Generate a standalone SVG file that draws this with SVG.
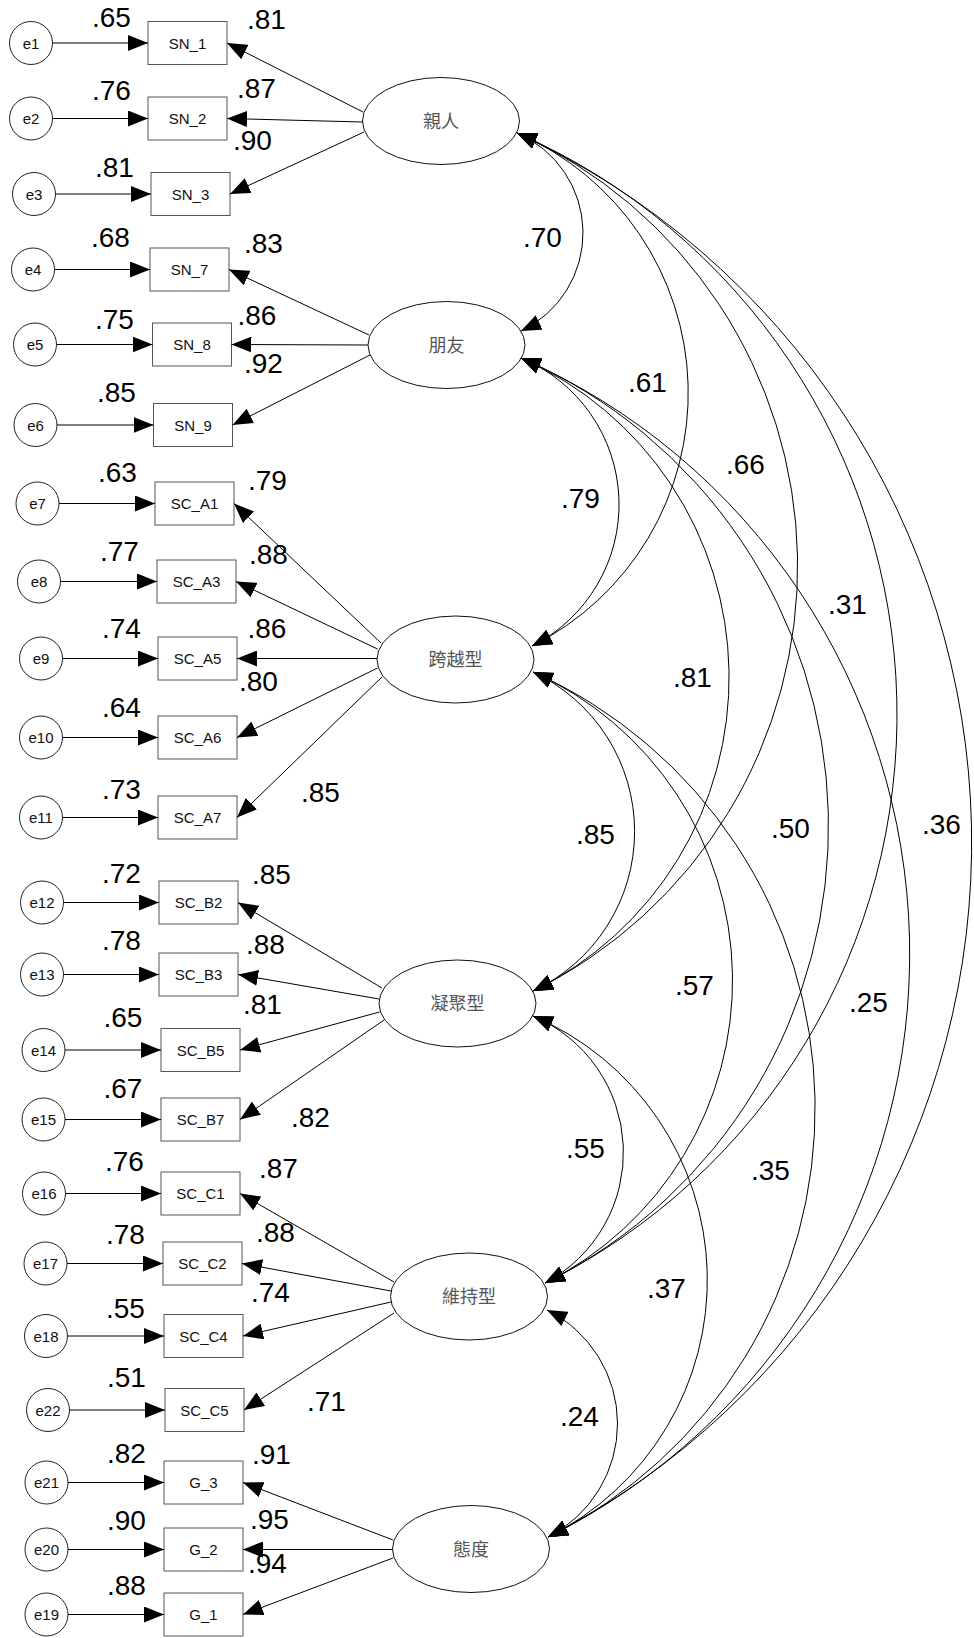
<svg xmlns="http://www.w3.org/2000/svg" width="974" height="1638" viewBox="0 0 974 1638">
<style>
.bg{fill:#fff}
.box{fill:#fff;stroke:#555;stroke-width:1}
.err{fill:#fff;stroke:#222;stroke-width:1}
.lat{fill:#fff;stroke:#111;stroke-width:1}
.t{font-family:"Liberation Sans",Arial,sans-serif;font-size:15px;fill:#111;text-anchor:middle}
.cjk{font-family:"Noto Sans CJK TC","Noto Sans CJK SC",sans-serif;font-size:18px;fill:#555;text-anchor:middle}
.num{font-family:"Liberation Sans",Arial,sans-serif;font-size:28px;fill:#000}
.e{fill:none;stroke:#000;stroke-width:1;marker-end:url(#ah)}
.c{fill:none;stroke:#000;stroke-width:1;marker-start:url(#ah);marker-end:url(#ah)}
</style>
<defs>
<marker id="ah" viewBox="0 0 20 16" refX="20" refY="8" markerWidth="20" markerHeight="16" markerUnits="userSpaceOnUse" orient="auto-start-reverse"><path d="M0,0 L20,8 L0,16 z" fill="#000"/></marker>
</defs>
<rect class="bg" x="0" y="0" width="974" height="1638"/>

<g id="latents">
<g id="qinren"><ellipse class="lat" cx="441" cy="121" rx="78.5" ry="43.5"/><text class="cjk" x="441" y="127.5">親人</text></g>
<g id="pengyou"><ellipse class="lat" cx="446.5" cy="345" rx="78.5" ry="43.5"/><text class="cjk" x="446.5" y="351.5">朋友</text></g>
<g id="kuayue"><ellipse class="lat" cx="455.5" cy="659.5" rx="78.5" ry="43.5"/><text class="cjk" x="455.5" y="666">跨越型</text></g>
<g id="ningju"><ellipse class="lat" cx="457.5" cy="1003.5" rx="78.5" ry="43.5"/><text class="cjk" x="457.5" y="1010">凝聚型</text></g>
<g id="weichi"><ellipse class="lat" cx="469" cy="1296.5" rx="78.5" ry="43.5"/><text class="cjk" x="469" y="1303">維持型</text></g>
<g id="taidu"><ellipse class="lat" cx="471" cy="1549" rx="78.5" ry="43.5"/><text class="cjk" x="471" y="1555.5">態度</text></g>
</g>

<g id="indicators">
<g id="SN_1"><rect class="box" x="148" y="21.5" width="79" height="43"/><text class="t" x="187.5" y="48.5">SN_1</text></g>
<g id="SN_2"><rect class="box" x="148" y="97" width="79" height="43"/><text class="t" x="187.5" y="124">SN_2</text></g>
<g id="SN_3"><rect class="box" x="151" y="172.5" width="79" height="43"/><text class="t" x="190.5" y="199.5">SN_3</text></g>
<g id="SN_7"><rect class="box" x="150" y="248" width="79" height="43"/><text class="t" x="189.5" y="275">SN_7</text></g>
<g id="SN_8"><rect class="box" x="152.5" y="323" width="79" height="43"/><text class="t" x="192" y="350">SN_8</text></g>
<g id="SN_9"><rect class="box" x="153.5" y="403.5" width="79" height="43"/><text class="t" x="193" y="430.5">SN_9</text></g>
<g id="SC_A1"><rect class="box" x="155" y="482" width="79" height="43"/><text class="t" x="194.5" y="509">SC_A1</text></g>
<g id="SC_A3"><rect class="box" x="157" y="560" width="79" height="43"/><text class="t" x="196.5" y="587">SC_A3</text></g>
<g id="SC_A5"><rect class="box" x="158" y="637" width="79" height="43"/><text class="t" x="197.5" y="664">SC_A5</text></g>
<g id="SC_A6"><rect class="box" x="158" y="716" width="79" height="43"/><text class="t" x="197.5" y="743">SC_A6</text></g>
<g id="SC_A7"><rect class="box" x="158" y="796" width="79" height="43"/><text class="t" x="197.5" y="823">SC_A7</text></g>
<g id="SC_B2"><rect class="box" x="159" y="881" width="79" height="43"/><text class="t" x="198.5" y="908">SC_B2</text></g>
<g id="SC_B3"><rect class="box" x="159" y="953" width="79" height="43"/><text class="t" x="198.5" y="980">SC_B3</text></g>
<g id="SC_B5"><rect class="box" x="161" y="1028.5" width="79" height="43"/><text class="t" x="200.5" y="1055.5">SC_B5</text></g>
<g id="SC_B7"><rect class="box" x="161" y="1098" width="79" height="43"/><text class="t" x="200.5" y="1125">SC_B7</text></g>
<g id="SC_C1"><rect class="box" x="161" y="1172" width="79" height="43"/><text class="t" x="200.5" y="1199">SC_C1</text></g>
<g id="SC_C2"><rect class="box" x="163" y="1242" width="79" height="43"/><text class="t" x="202.5" y="1269">SC_C2</text></g>
<g id="SC_C4"><rect class="box" x="164" y="1314.5" width="79" height="43"/><text class="t" x="203.5" y="1341.5">SC_C4</text></g>
<g id="SC_C5"><rect class="box" x="165" y="1388.5" width="79" height="43"/><text class="t" x="204.5" y="1415.5">SC_C5</text></g>
<g id="G_3"><rect class="box" x="164" y="1461" width="79" height="43"/><text class="t" x="203.5" y="1488">G_3</text></g>
<g id="G_2"><rect class="box" x="164" y="1528" width="79" height="43"/><text class="t" x="203.5" y="1555">G_2</text></g>
<g id="G_1"><rect class="box" x="164" y="1593" width="79" height="43"/><text class="t" x="203.5" y="1620">G_1</text></g>
</g>

<g id="errors">
<g id="e1"><circle class="err" cx="31" cy="43" r="21.5"/><text class="t" x="31" y="48.5">e1</text></g>
<g id="e2"><circle class="err" cx="31" cy="118.5" r="21.5"/><text class="t" x="31" y="124">e2</text></g>
<g id="e3"><circle class="err" cx="34" cy="194" r="21.5"/><text class="t" x="34" y="199.5">e3</text></g>
<g id="e4"><circle class="err" cx="33" cy="269.5" r="21.5"/><text class="t" x="33" y="275">e4</text></g>
<g id="e5"><circle class="err" cx="35" cy="344.5" r="21.5"/><text class="t" x="35" y="350">e5</text></g>
<g id="e6"><circle class="err" cx="35.5" cy="425" r="21.5"/><text class="t" x="35.5" y="430.5">e6</text></g>
<g id="e7"><circle class="err" cx="37.5" cy="503.5" r="21.5"/><text class="t" x="37.5" y="509">e7</text></g>
<g id="e8"><circle class="err" cx="39" cy="581.5" r="21.5"/><text class="t" x="39" y="587">e8</text></g>
<g id="e9"><circle class="err" cx="41" cy="658.5" r="21.5"/><text class="t" x="41" y="664">e9</text></g>
<g id="e10"><circle class="err" cx="41" cy="737.5" r="21.5"/><text class="t" x="41" y="743">e10</text></g>
<g id="e11"><circle class="err" cx="41" cy="817.5" r="21.5"/><text class="t" x="41" y="823">e11</text></g>
<g id="e12"><circle class="err" cx="42" cy="902.5" r="21.5"/><text class="t" x="42" y="908">e12</text></g>
<g id="e13"><circle class="err" cx="42" cy="974.5" r="21.5"/><text class="t" x="42" y="980">e13</text></g>
<g id="e14"><circle class="err" cx="43.5" cy="1050" r="21.5"/><text class="t" x="43.5" y="1055.5">e14</text></g>
<g id="e15"><circle class="err" cx="43.5" cy="1119.5" r="21.5"/><text class="t" x="43.5" y="1125">e15</text></g>
<g id="e16"><circle class="err" cx="44" cy="1193.5" r="21.5"/><text class="t" x="44" y="1199">e16</text></g>
<g id="e17"><circle class="err" cx="45.5" cy="1263.5" r="21.5"/><text class="t" x="45.5" y="1269">e17</text></g>
<g id="e18"><circle class="err" cx="46" cy="1336" r="21.5"/><text class="t" x="46" y="1341.5">e18</text></g>
<g id="e22"><circle class="err" cx="48" cy="1410" r="21.5"/><text class="t" x="48" y="1415.5">e22</text></g>
<g id="e21"><circle class="err" cx="46.5" cy="1482.5" r="21.5"/><text class="t" x="46.5" y="1488">e21</text></g>
<g id="e20"><circle class="err" cx="46.5" cy="1549.5" r="21.5"/><text class="t" x="46.5" y="1555">e20</text></g>
<g id="e19"><circle class="err" cx="46.5" cy="1614.5" r="21.5"/><text class="t" x="46.5" y="1620">e19</text></g>
</g>

<g id="connectors">
<!-- error arrows -->
<line class="e" x1="52.5" y1="43" x2="148" y2="43"/>
<line class="e" x1="52.5" y1="118.5" x2="148" y2="118.5"/>
<line class="e" x1="55.5" y1="194" x2="151" y2="194"/>
<line class="e" x1="54.5" y1="269.5" x2="150" y2="269.5"/>
<line class="e" x1="56.5" y1="344.5" x2="152.5" y2="344.5"/>
<line class="e" x1="57" y1="425" x2="153.5" y2="425"/>
<line class="e" x1="59" y1="503.5" x2="155" y2="503.5"/>
<line class="e" x1="60.5" y1="581.5" x2="157" y2="581.5"/>
<line class="e" x1="62.5" y1="658.5" x2="158" y2="658.5"/>
<line class="e" x1="62.5" y1="737.5" x2="158" y2="737.5"/>
<line class="e" x1="62.5" y1="817.5" x2="158" y2="817.5"/>
<line class="e" x1="63.5" y1="902.5" x2="159" y2="902.5"/>
<line class="e" x1="63.5" y1="974.5" x2="159" y2="974.5"/>
<line class="e" x1="65" y1="1050" x2="161" y2="1050"/>
<line class="e" x1="65" y1="1119.5" x2="161" y2="1119.5"/>
<line class="e" x1="65.5" y1="1193.5" x2="161" y2="1193.5"/>
<line class="e" x1="67" y1="1263.5" x2="163" y2="1263.5"/>
<line class="e" x1="67.5" y1="1336" x2="164" y2="1336"/>
<line class="e" x1="69.5" y1="1410" x2="165" y2="1410"/>
<line class="e" x1="68" y1="1482.5" x2="164" y2="1482.5"/>
<line class="e" x1="68" y1="1549.5" x2="164" y2="1549.5"/>
<line class="e" x1="68" y1="1614.5" x2="164" y2="1614.5"/>
<!-- loadings -->
<line class="e" x1="363" y1="112" x2="227" y2="43"/>
<line class="e" x1="362.5" y1="122" x2="227" y2="118.5"/>
<line class="e" x1="364" y1="132" x2="230" y2="194"/>
<line class="e" x1="369" y1="335" x2="229" y2="269.5"/>
<line class="e" x1="368" y1="345" x2="231.5" y2="344.5"/>
<line class="e" x1="370" y1="355" x2="232.5" y2="425"/>
<line class="e" x1="381" y1="643" x2="234" y2="503.5"/>
<line class="e" x1="377.5" y1="649" x2="236" y2="581.5"/>
<line class="e" x1="377" y1="658.5" x2="237" y2="658.5"/>
<line class="e" x1="377.5" y1="668" x2="237" y2="737.5"/>
<line class="e" x1="382" y1="677" x2="237" y2="817.5"/>
<line class="e" x1="382" y1="988" x2="238" y2="902.5"/>
<line class="e" x1="379" y1="999" x2="238" y2="974.5"/>
<line class="e" x1="379.5" y1="1012" x2="240" y2="1050"/>
<line class="e" x1="384" y1="1020" x2="240" y2="1119.5"/>
<line class="e" x1="394" y1="1282" x2="240" y2="1193.5"/>
<line class="e" x1="391" y1="1291" x2="242" y2="1263.5"/>
<line class="e" x1="391" y1="1302" x2="243" y2="1336"/>
<line class="e" x1="394" y1="1313" x2="244" y2="1410"/>
<line class="e" x1="393" y1="1540" x2="243" y2="1482.5"/>
<line class="e" x1="392.5" y1="1549.5" x2="243" y2="1549.5"/>
<line class="e" x1="393" y1="1558" x2="243" y2="1614.5"/>
<!-- covariances -->
<path class="c" d="M517,133 A108.6,108.6 0 0 1 521,331"/>
<path class="c" d="M517,133 A283,283 0 0 1 532,646"/>
<path class="c" d="M517,133 A474,474 0 0 1 533,991"/>
<path class="c" d="M517,133 A635,635 0 0 1 545,1283"/>
<path class="c" d="M517,133 A781,781 0 0 1 548,1537"/>
<path class="c" d="M521,358 A158.5,158.5 0 0 1 532,646"/>
<path class="c" d="M521,358 A349,349 0 0 1 533,991"/>
<path class="c" d="M521,358 A510,510 0 0 1 545,1283"/>
<path class="c" d="M521,358 A651,651 0 0 1 548,1537"/>
<path class="c" d="M533,672 A176,176 0 0 1 533,991"/>
<path class="c" d="M533,672 A338,338 0 0 1 545,1283"/>
<path class="c" d="M533,672 A478,478 0 0 1 548,1537"/>
<path class="c" d="M533,1016 A148,148 0 0 1 545,1283"/>
<path class="c" d="M533,1016 A287,287 0 0 1 548,1537"/>
<path class="c" d="M547,1310 A127,127 0 0 1 548,1537"/>
</g>

<g id="labels">
<text class="num" x="92" y="27">.65</text>
<text class="num" x="92" y="100">.76</text>
<text class="num" x="95" y="177">.81</text>
<text class="num" x="91" y="247">.68</text>
<text class="num" x="95" y="329">.75</text>
<text class="num" x="97" y="402">.85</text>
<text class="num" x="98" y="482">.63</text>
<text class="num" x="100" y="561">.77</text>
<text class="num" x="102" y="638">.74</text>
<text class="num" x="102" y="717">.64</text>
<text class="num" x="102" y="799">.73</text>
<text class="num" x="102" y="883">.72</text>
<text class="num" x="102" y="950">.78</text>
<text class="num" x="103.5" y="1027">.65</text>
<text class="num" x="103.5" y="1098">.67</text>
<text class="num" x="105" y="1171">.76</text>
<text class="num" x="106" y="1244">.78</text>
<text class="num" x="106" y="1318">.55</text>
<text class="num" x="107" y="1387">.51</text>
<text class="num" x="107" y="1463">.82</text>
<text class="num" x="107" y="1530">.90</text>
<text class="num" x="107" y="1595">.88</text>

<text class="num" x="247" y="29">.81</text>
<text class="num" x="237" y="98">.87</text>
<text class="num" x="233" y="150">.90</text>
<text class="num" x="244" y="253">.83</text>
<text class="num" x="237.5" y="325">.86</text>
<text class="num" x="244" y="373">.92</text>
<text class="num" x="248" y="490">.79</text>
<text class="num" x="249" y="564">.88</text>
<text class="num" x="247.5" y="638">.86</text>
<text class="num" x="239" y="691">.80</text>
<text class="num" x="301" y="802">.85</text>
<text class="num" x="252" y="884">.85</text>
<text class="num" x="246" y="954">.88</text>
<text class="num" x="243" y="1014">.81</text>
<text class="num" x="291" y="1127">.82</text>
<text class="num" x="259" y="1178">.87</text>
<text class="num" x="256" y="1242">.88</text>
<text class="num" x="251" y="1302">.74</text>
<text class="num" x="307" y="1411">.71</text>
<text class="num" x="252" y="1464">.91</text>
<text class="num" x="250" y="1529">.95</text>
<text class="num" x="248" y="1573">.94</text>

<text class="num" x="523" y="247">.70</text>
<text class="num" x="628" y="392">.61</text>
<text class="num" x="726" y="474">.66</text>
<text class="num" x="561" y="508">.79</text>
<text class="num" x="828" y="614">.31</text>
<text class="num" x="673" y="687">.81</text>
<text class="num" x="576" y="844">.85</text>
<text class="num" x="771" y="838">.50</text>
<text class="num" x="922" y="834">.36</text>
<text class="num" x="675" y="995">.57</text>
<text class="num" x="849" y="1012">.25</text>
<text class="num" x="566" y="1158">.55</text>
<text class="num" x="751" y="1180">.35</text>
<text class="num" x="647" y="1298">.37</text>
<text class="num" x="560" y="1426">.24</text>
</g>
</svg>
